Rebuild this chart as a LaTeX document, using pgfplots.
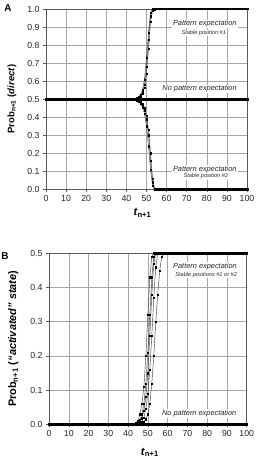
\documentclass[border=0pt]{standalone}
\usepackage{pgfplots}
\pgfplotsset{compat=1.18}
\usepackage{pgfplotstable}
\usepackage{fontspec}
\setmainfont{Liberation Sans}
\setsansfont{Liberation Sans}

% steady levels, one row per time step
\pgfplotstableread[row sep=\\]{
t half one zero\\
0 .5 1 0\\ 1 .5 1 0\\ 2 .5 1 0\\ 3 .5 1 0\\ 4 .5 1 0\\
5 .5 1 0\\ 6 .5 1 0\\ 7 .5 1 0\\ 8 .5 1 0\\ 9 .5 1 0\\
10 .5 1 0\\ 11 .5 1 0\\ 12 .5 1 0\\ 13 .5 1 0\\ 14 .5 1 0\\
15 .5 1 0\\ 16 .5 1 0\\ 17 .5 1 0\\ 18 .5 1 0\\ 19 .5 1 0\\
20 .5 1 0\\ 21 .5 1 0\\ 22 .5 1 0\\ 23 .5 1 0\\ 24 .5 1 0\\
25 .5 1 0\\ 26 .5 1 0\\ 27 .5 1 0\\ 28 .5 1 0\\ 29 .5 1 0\\
30 .5 1 0\\ 31 .5 1 0\\ 32 .5 1 0\\ 33 .5 1 0\\ 34 .5 1 0\\
35 .5 1 0\\ 36 .5 1 0\\ 37 .5 1 0\\ 38 .5 1 0\\ 39 .5 1 0\\
40 .5 1 0\\ 41 .5 1 0\\ 42 .5 1 0\\ 43 .5 1 0\\ 44 .5 1 0\\
45 .5 1 0\\ 46 .5 1 0\\ 47 .5 1 0\\ 48 .5 1 0\\ 49 .5 1 0\\
50 .5 1 0\\ 51 .5 1 0\\ 52 .5 1 0\\ 53 .5 1 0\\ 54 .5 1 0\\
55 .5 1 0\\ 56 .5 1 0\\ 57 .5 1 0\\ 58 .5 1 0\\ 59 .5 1 0\\
60 .5 1 0\\ 61 .5 1 0\\ 62 .5 1 0\\ 63 .5 1 0\\ 64 .5 1 0\\
65 .5 1 0\\ 66 .5 1 0\\ 67 .5 1 0\\ 68 .5 1 0\\ 69 .5 1 0\\
70 .5 1 0\\ 71 .5 1 0\\ 72 .5 1 0\\ 73 .5 1 0\\ 74 .5 1 0\\
75 .5 1 0\\ 76 .5 1 0\\ 77 .5 1 0\\ 78 .5 1 0\\ 79 .5 1 0\\
80 .5 1 0\\ 81 .5 1 0\\ 82 .5 1 0\\ 83 .5 1 0\\ 84 .5 1 0\\
85 .5 1 0\\ 86 .5 1 0\\ 87 .5 1 0\\ 88 .5 1 0\\ 89 .5 1 0\\
90 .5 1 0\\ 91 .5 1 0\\ 92 .5 1 0\\ 93 .5 1 0\\ 94 .5 1 0\\
95 .5 1 0\\ 96 .5 1 0\\ 97 .5 1 0\\ 98 .5 1 0\\ 99 .5 1 0\\
100 .5 1 0\\
}\flat

\pgfplotsset{
  panel/.style={
    scale only axis,
    xmin=0, xmax=100,
    xtick={0,10,...,100},
    grid=major,
    grid style={black!35, line width=0.5pt},
    axis line style={black!65, line width=0.6pt},
    tick style={black!65, line width=0.5pt},
    tick align=outside,
    major tick length=3bp,
    xtick pos=bottom, ytick pos=left,
    tick label style={font=\fontsize{8.8}{10}\selectfont, text=black!85},
    /pgf/number format/assume math mode=true,
    yticklabel style={/pgf/number format/.cd, fixed, fixed zerofill, precision=1},
    clip=false,
  },
  run/.style={black!75, line width=0.45pt, mark=square*, mark size=0.65pt,
    mark options={fill=black, draw=black, line width=0.2pt}},
  level/.style={black, line width=0.5pt, mark=square*, mark size=0.75pt,
    mark options={fill=black, draw=black}},
}
\tikzset{
  note/.style={font=\fontsize{7.4}{8}\selectfont\itshape, fill=white, inner sep=1pt, text=black!85},
  subnote/.style={font=\fontsize{5.6}{6}\selectfont\itshape, fill=white, inner sep=0.6pt, text=black!85},
}

\begin{document}
\begin{tikzpicture}
\useasboundingbox (0,0) rectangle (257bp,464bp);

% ---------------- Panel A ----------------
\begin{axis}[panel,
  at={(46bp,274.7bp)}, anchor=south west,
  width=201bp, height=180.3bp,
  ymin=0, ymax=1, ytick={0,0.1,...,1.0},
  xlabel={\textbf{\textit{t}}\textsubscript{\textbf{n+1}}},
  xlabel style={at={(axis description cs:0.48,-0.13)}, anchor=center, font=\fontsize{11}{12}\selectfont},
  ylabel={\textbf{Prob\textsubscript{n+1} (\textit{direct})}},
  ylabel style={at={(axis description cs:-0.17,0.5)}, anchor=center, font=\fontsize{9.5}{11}\selectfont},
]
\addplot[level] table[x=t, y=half] {\flat};
\addplot[level, restrict x to domain=53:100] table[x=t, y=one] {\flat};
\addplot[level, restrict x to domain=54:100] table[x=t, y=zero] {\flat};
% runs drifting to stable position #1
\addplot[run] coordinates {(44,.5)(45,.505)(46,.512)(47,.525)(48,.55)(49,.61)(50,.73)(51,.87)(52,.98)(53,1)};
\addplot[run] coordinates {(44,.5)(45,.503)(46,.508)(47,.518)(48,.54)(49,.58)(50,.68)(51,.83)(52,.96)(53,1)};
\addplot[run] coordinates {(44,.5)(45,.501)(46,.505)(47,.513)(48,.53)(49,.565)(50,.64)(51,.78)(52,.93)(53,.99)(54,1)};
% runs drifting to stable position #2
\addplot[run] coordinates {(43,.5)(44,.498)(45,.494)(46,.487)(47,.475)(48,.455)(49,.42)(50,.35)(51,.24)(52,.11)(53,.02)(54,0)};
\addplot[run] coordinates {(44,.5)(45,.496)(46,.49)(47,.48)(48,.465)(49,.44)(50,.39)(51,.30)(52,.16)(53,.04)(54,0)};
\addplot[run] coordinates {(44,.5)(45,.497)(46,.493)(47,.486)(48,.472)(49,.452)(50,.41)(51,.33)(52,.20)(53,.06)(54,.005)(55,0)};
\node[note] at (axis cs:79,0.917) {Pattern expectation};
\node[subnote] at (axis cs:78.5,0.867) {Stable position \#1};
\node[note] at (axis cs:76.4,0.556) {No pattern expectation};
\node[note] at (axis cs:79,0.111) {Pattern expectation};
\node[subnote] at (axis cs:79.5,0.072) {Stable position \#2};
\end{axis}
\node[font=\fontsize{10}{11}\selectfont\bfseries] at (8bp,456bp) {A};

% ---------------- Panel B ----------------
\begin{axis}[panel,
  at={(49bp,39.7bp)}, anchor=south west,
  width=197.7bp, height=171bp,
  ymin=0, ymax=0.5, ytick={0,0.1,...,0.5},
  xlabel={\textbf{\textit{t}}\textsubscript{\textbf{n+1}}},
  xlabel style={at={(axis description cs:0.51,-0.165)}, anchor=center, font=\fontsize{11}{12}\selectfont},
  ylabel={\textbf{Prob\textsubscript{n+1} (\textit{``activated'' state})}},
  ylabel style={at={(axis description cs:-0.18,0.5)}, anchor=center, font=\fontsize{11}{12}\selectfont},
]
\addplot[level] table[x=t, y=zero] {\flat};
\addplot[level, restrict x to domain=53:100] table[x=t, y=half] {\flat};
\addplot[run] coordinates {(42,0)(43,.002)(44,.005)(45,.01)(46,.03)(47,.06)(48,.11)(49,.2)(50,.32)(51,.43)(52,.49)(53,.5)};
\addplot[run] coordinates {(43,0)(44,.002)(45,.005)(46,.012)(47,.03)(48,.06)(49,.12)(50,.21)(51,.32)(52,.43)(53,.49)(54,.5)};
\addplot[run] coordinates {(44,0)(45,.003)(46,.008)(47,.018)(48,.04)(49,.08)(50,.15)(51,.26)(52,.38)(53,.47)(54,.5)};
\addplot[run] coordinates {(45,0)(46,.003)(47,.008)(48,.02)(49,.045)(50,.09)(51,.16)(52,.26)(53,.37)(54,.46)(55,.5)};
\addplot[run] coordinates {(46,0)(47,.003)(48,.008)(49,.015)(50,.03)(51,.06)(52,.12)(53,.2)(54,.3)(55,.38)(56,.45)(57,.49)(58,.5)};
\node[note] at (axis cs:78.9,0.461) {Pattern expectation};
\node[subnote] at (axis cs:79.5,0.4375) {Stable positions \#1 or \#2};
\node[note] at (axis cs:76,0.031) {No pattern expectation};
\end{axis}
\node[font=\fontsize{10}{11}\selectfont\bfseries] at (5bp,208bp) {B};
\end{tikzpicture}
\end{document}
